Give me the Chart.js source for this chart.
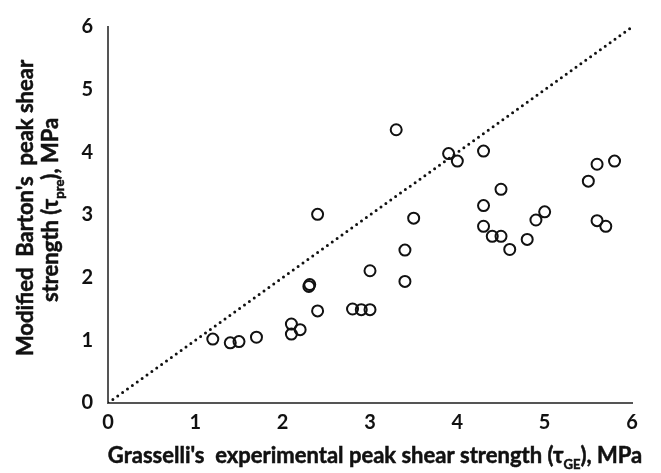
<!DOCTYPE html>
<html>
<head>
<meta charset="utf-8">
<script src="https://cdn.jsdelivr.net/npm/chart.js@4"></script>
<style>
    html, body { margin: 0; padding: 0; background: #fff; }
    #wrap { width: 661px; height: 473px; }
</style>
</head>
<body>
<div id="wrap"><canvas id="shearChart" width="661" height="473"></canvas></div>
<script>
// Grasselli's experimental peak shear strength, MPa
const experimental = [1.2, 1.4, 1.5, 1.7, 2.1, 2.1, 2.2, 2.3, 2.31, 2.4, 2.4, 2.8, 2.9, 3.0, 3.0,
    3.3, 3.4, 3.4, 3.5, 3.9, 4.0, 4.3, 4.3, 4.3, 4.4, 4.5, 4.5, 4.6, 4.8, 4.9, 5.0, 5.5, 5.6, 5.6, 5.7, 5.8];
// Modified Barton's predicted peak shear strength, MPa
const predicted = [1.02, 0.96, 0.98, 1.05, 1.26, 1.10, 1.17, 1.86, 1.89, 1.47, 3.01, 1.50, 1.49, 1.49, 2.11,
    4.36, 1.94, 2.44, 2.95, 3.98, 3.86, 4.02, 3.15, 2.82, 2.66, 2.66, 3.41, 2.45, 2.61, 2.92, 3.05, 3.54, 3.81, 2.91, 2.82, 3.86];
// 1:1 reference line
const lineX = [0, 6];
const lineY = [0, 6];
const tickValues = [0, 1, 2, 3, 4, 5, 6];

const FONT = 'Lato, "Open Sans", sans-serif';

// draws a line of text made of pieces, some of them subscript, centred on (0,0)
function drawRich(ctx, parts, size) {
    const big = `bold ${size}px ${FONT}`;
    const small = `bold ${Math.round(size * 0.6)}px ${FONT}`;
    let total = 0;
    parts.forEach(p => {
        ctx.font = p.sub ? small : big;
        p.w = ctx.measureText(p.t).width;
        total += p.w;
    });
    let x = -total / 2;
    ctx.textBaseline = 'alphabetic';
    ctx.textAlign = 'left';
    ctx.strokeStyle = '#111';
    ctx.lineWidth = 0.5;
    parts.forEach(p => {
        ctx.font = p.sub ? small : big;
        const y = p.sub ? size * 0.3 + size * 0.35 : size * 0.35;
        ctx.fillText(p.t, x, y);
        ctx.strokeText(p.t, x, y);
        x += p.w;
    });
}

const axisTitles = {
    id: 'axisTitles',
    afterDraw(chart) {
        const ctx = chart.ctx;
        ctx.save();
        ctx.fillStyle = '#111';
        ctx.translate(375, 455);
        drawRich(ctx, [
            { t: "Grasselli's  experimental peak shear strength (τ" },
            { t: 'GE', sub: true },
            { t: '), MPa' }
        ], 22);
        ctx.restore();

        ctx.save();
        ctx.fillStyle = '#111';
        ctx.translate(25, 208);
        ctx.rotate(-Math.PI / 2);
        drawRich(ctx, [{ t: "Modified  Barton's  peak shear" }], 22);
        ctx.restore();

        ctx.save();
        ctx.fillStyle = '#111';
        ctx.translate(50, 210);
        ctx.rotate(-Math.PI / 2);
        drawRich(ctx, [
            { t: 'strength (τ' },
            { t: 'pre', sub: true },
            { t: '), MPa' }
        ], 22);
        ctx.restore();
    }
};

const ctx = document.getElementById('shearChart').getContext('2d');

new Chart(ctx, {
    data: {
        datasets: [{
            type: 'line',
            data: lineX.map((x, i) => ({ x: x, y: lineY[i] })),
            borderColor: '#111',
            borderWidth: 3,
            borderDash: [0, 6],
            borderCapStyle: 'round',
            pointRadius: 0,
            fill: false
        }, {
            type: 'scatter',
            data: experimental.map((x, i) => ({ x: x, y: predicted[i] })),
            pointRadius: 5.5,
            pointBorderWidth: 2,
            pointBorderColor: '#111',
            pointBackgroundColor: 'rgba(0,0,0,0)'
        }]
    },
    options: {
        responsive: false,
        animation: false,
        layout: { padding: { left: 0, top: 20, right: 29, bottom: 0 } },
        plugins: {
            legend: { display: false },
            tooltip: { enabled: false }
        },
        scales: {
            x: {
                type: 'linear',
                min: 0,
                max: 6,
                afterFit: scale => { scale.height = 70; },
                afterBuildTicks: scale => { scale.ticks = tickValues.map(v => ({ value: v })); },
                grid: { display: false, drawTicks: false },
                border: { display: true, color: '#555', width: 2 },
                ticks: {
                    padding: 8,
                    color: '#111',
                    font: { family: FONT, size: 20, weight: 'bold' }
                }
            },
            y: {
                type: 'linear',
                min: 0,
                max: 6,
                afterFit: scale => { scale.width = 108; },
                afterBuildTicks: scale => { scale.ticks = tickValues.map(v => ({ value: v })); },
                grid: { display: false, drawTicks: false },
                border: { display: true, color: '#555', width: 2 },
                ticks: {
                    padding: 15,
                    color: '#111',
                    font: { family: FONT, size: 20, weight: 'bold' }
                }
            }
        }
    },
    plugins: [axisTitles]
});
</script>
</body>
</html>
